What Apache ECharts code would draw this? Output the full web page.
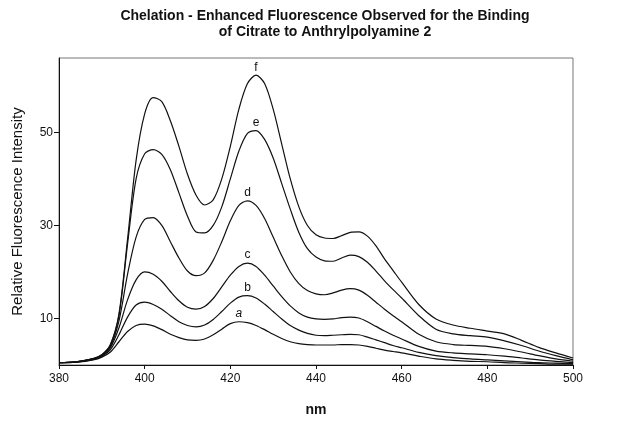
<!DOCTYPE html>
<html>
<head>
<meta charset="utf-8">
<script src="https://cdn.jsdelivr.net/npm/echarts@6/dist/echarts.min.js"></script>
<style>html,body{margin:0;padding:0;background:#fff}#c{width:635px;height:425px}</style>
</head>
<body>
<div id="c"></div>
<script>
var nm = [380,384,388,390,392,394,396,398,400,402,404,406,408,410,412,414,416,418,420,422,424,426,428,430,432,434,436,438,440,442,444,446,448,450,452,454,456,458,460,464,468,472,476,480,484,488,492,496,500];
var curveF = [0.5,0.7,1.4,2.2,4.4,11,27,44,54,57.5,56.6,52.5,47,41,36.5,34.4,35.5,40,47,55,60.5,62.3,60.5,55,47.5,40,34,30,28,27.3,27.2,27.8,28.5,28.6,27.7,25.6,22.8,20.3,17.8,13.0,9.9,8.6,7.9,7.3,6.7,5.3,3.8,2.6,1.5];
var curveE = [0.5,0.7,1.4,2.2,4.3,10.6,26,40,45.4,46.3,45.3,42,37,32,28.6,28.4,30,34,40,46,49.8,50.4,48.5,44.5,39,33.5,28.5,25,23.2,22.4,22.3,23,23.6,23.3,22.1,20.2,18.1,16.2,14.4,10.6,7.7,6.7,6.3,6.0,5.2,4.2,3.0,2.0,1.1];
var curveD = [0.5,0.7,1.3,2.1,4.0,9.5,19.5,27.5,31.3,31.7,30,26.5,23,20.2,19.2,19.8,22.5,26.5,31,34.3,35.3,34.3,31.5,27.5,23.5,20,17.5,16,15.3,15.1,15.5,16.1,16.4,16.1,15,13.5,12,10.6,9.3,6.6,5.0,4.4,4.2,4.0,3.5,2.8,2.0,1.3,0.8];
var curveC = [0.5,0.6,1.3,2.0,3.7,8.0,14.0,18.3,20.0,19.5,18,15.8,13.8,12.4,12.0,12.6,14.3,16.8,19.3,21.2,21.9,21.2,19.3,17,14.7,12.7,11.2,10.3,9.9,9.8,9.9,10.2,10.3,10.1,9.3,8.3,7.3,6.4,5.6,4.0,3.0,2.6,2.4,2.2,1.9,1.5,1.1,0.8,0.5];
var curveB = [0.5,0.6,1.2,1.9,3.3,6.5,10.3,12.9,13.5,13.0,12,10.6,9.3,8.5,8.2,8.6,9.8,11.5,13.3,14.6,14.9,14.4,13.1,11.5,9.9,8.5,7.5,6.8,6.4,6.3,6.4,6.5,6.6,6.5,6.0,5.4,4.8,4.2,3.7,2.7,2.0,1.6,1.3,1.1,0.9,0.7,0.5,0.4,0.3];
var curveA = [0.5,0.6,1.1,1.7,2.8,5.0,7.2,8.5,8.8,8.4,7.6,6.6,5.9,5.4,5.3,5.6,6.5,7.7,8.9,9.3,9.1,8.5,7.6,6.6,5.7,5.0,4.6,4.4,4.3,4.3,4.3,4.4,4.4,4.3,4.0,3.6,3.2,2.9,2.6,1.9,1.3,1.0,0.8,0.7,0.5,0.4,0.3,0.2,0.2];
var curveNames = ['a','b','c','d','e','f'];
var curves = [curveA, curveB, curveC, curveD, curveE, curveF];
var xTicks = [380,400,420,440,460,480,500];
var yTicks = [10,30,50];
var titleLines = ['Chelation - Enhanced Fluorescence Observed for the Binding', 'of Citrate to Anthrylpolyamine 2'];

function peakIndex(vals) {
  var best = -1, bi = 0;
  for (var i = 0; i < nm.length; i++) {
    if (nm[i] >= 415 && nm[i] <= 435 && vals[i] > best) { best = vals[i]; bi = i; }
  }
  return bi;
}

var series = curves.map(function (vals, k) {
  var name = curveNames[k];
  var bi = peakIndex(vals);
  return {
    type: 'line', name: name,
    data: nm.map(function (x, i) { return [x, vals[i]]; }),
    smooth: 0.3, showSymbol: false, symbol: 'none',
    lineStyle: { color: '#111', width: 1.2 },
    emphasis: { disabled: true }, silent: true,
    markPoint: {
      silent: true, animation: false,
      symbol: 'circle', symbolSize: 2,
      itemStyle: { color: 'rgba(0,0,0,0)' },
      label: { show: true, position: 'top', distance: 1, formatter: name,
        fontFamily: 'Liberation Sans, Arial', fontSize: 12, color: '#111',
        fontStyle: name === 'a' ? 'italic' : 'normal' },
      data: [{ coord: [nm[bi], vals[bi]] }]
    }
  };
});

var chart = echarts.init(document.getElementById('c'), null, { renderer: 'canvas' });
chart.setOption({
  animation: false,
  backgroundColor: '#fff',
  title: {
    text: titleLines.join('\n'), left: 320, top: 3, textAlign: 'center',
    textStyle: { fontFamily: 'Liberation Sans, Arial', fontSize: 14, fontWeight: 'bold', color: '#111', lineHeight: 16 }
  },
  grid: { left: 59, right: 62, top: 58, bottom: 60, show: true, borderColor: '#777', borderWidth: 1 },
  xAxis: {
    type: 'value', min: 380, max: 500, interval: 20,
    name: 'nm', nameLocation: 'middle', nameGap: 38,
    nameTextStyle: { fontFamily: 'Liberation Sans, Arial', fontSize: 14, fontWeight: 'bold', color: '#111' },
    axisLine: { lineStyle: { color: '#111', width: 1 } },
    axisTick: { show: true, length: 4, lineStyle: { color: '#111' }, customValues: xTicks },
    axisLabel: { fontFamily: 'Liberation Sans, Arial', fontSize: 12, color: '#111', margin: 8, customValues: xTicks },
    splitLine: { show: false }
  },
  yAxis: {
    type: 'value', min: 0, max: 66,
    name: 'Relative Fluorescence Intensity', nameLocation: 'middle', nameGap: 34,
    nameTextStyle: { fontFamily: 'Liberation Sans, Arial', fontSize: 15, color: '#111' },
    axisLine: { show: true, lineStyle: { color: '#111', width: 1 } },
    axisTick: { show: true, length: 5, lineStyle: { color: '#111' }, customValues: yTicks },
    axisLabel: { fontFamily: 'Liberation Sans, Arial', fontSize: 12, color: '#111', margin: 6, customValues: yTicks },
    splitLine: { show: false }
  },
  series: series
});
</script>
</body>
</html>
